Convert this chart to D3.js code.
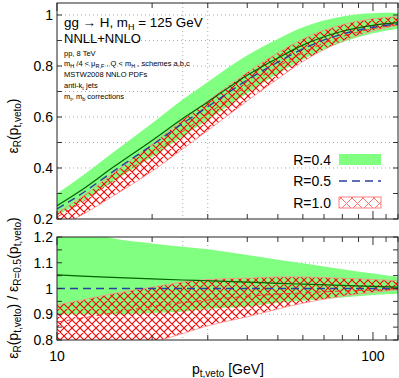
<!DOCTYPE html>
<html>
<head>
<meta charset="utf-8">
<script src="https://d3js.org/d3.v7.min.js"></script>
<style>
body{margin:0;background:#fff;}
text{font-family:"Liberation Sans",Arial,sans-serif;fill:#000;}
</style>
</head>
<body>
<script>
// values
const ptVeto      = [10, 12, 15, 20, 25, 30, 40, 50, 60, 80, 100, 120];
const effR05      = [0.239, 0.30, 0.385, 0.49, 0.575, 0.64, 0.745, 0.815, 0.867, 0.925, 0.952, 0.965];
const ratioR04Mid = [1.053, 1.048, 1.043, 1.037, 1.033, 1.03, 1.025, 1.02, 1.017, 1.012, 1.008, 1.005];
const ratioR04Hi  = [1.255, 1.23, 1.195, 1.175, 1.162, 1.152, 1.13, 1.112, 1.098, 1.075, 1.058, 1.045];
const ratioR04Lo  = [0.90, 0.90, 0.90, 0.905, 0.91, 0.92, 0.93, 0.945, 0.952, 0.965, 0.975, 0.98];
const ratioR10Mid = [0.87, 0.885, 0.905, 0.93, 0.945, 0.955, 0.97, 0.978, 0.983, 0.99, 0.994, 0.997];
const ratioR10Hi  = [0.936, 0.955, 0.98, 1.005, 1.025, 1.035, 1.04, 1.045, 1.045, 1.04, 1.035, 1.03];
const ratioR10Lo  = [0.70, 0.72, 0.75, 0.79, 0.825, 0.855, 0.89, 0.92, 0.943, 0.97, 0.985, 0.995];
const topTicks = [0.2, 0.4, 0.6, 0.8, 1];
const botTicks = [0.8, 0.9, 1, 1.1, 1.2];
const xLabels  = [10, 100];
const legendLabels = ['R=0.4', 'R=0.5', 'R=1.0'];

const width = 399, height = 378;
const left = 57, right = 398;
const svg = d3.select('body').append('svg').attr('width', width).attr('height', height);

const defs = svg.append('defs');
const pat = defs.append('pattern').attr('id', 'hatch').attr('patternUnits', 'userSpaceOnUse')
  .attr('width', 8).attr('height', 8);
pat.append('path').attr('d', 'M0,0L8,8M8,0L0,8M-1,7L1,9M7,-1L9,1M7,9L9,7M-1,1L1,-1')
  .attr('stroke', '#ff0000').attr('stroke-width', 1.1).attr('fill', 'none');
const pat2 = defs.append('pattern').attr('id', 'hatchL').attr('patternUnits', 'userSpaceOnUse')
  .attr('width', 11).attr('height', 11);
pat2.append('path').attr('d', 'M0,0L11,11M11,0L0,11')
  .attr('stroke', '#ff7070').attr('stroke-width', 1).attr('fill', 'none');

const x = d3.scaleLog().domain([10, 120]).range([left, right]);

function panel(id, top, bottom, ydom, ticks, minor, grid, ratio) {
  const y = d3.scaleLinear().domain(ydom).range([bottom, top]);
  defs.append('clipPath').attr('id', id).append('rect')
    .attr('x', left).attr('y', top).attr('width', right - left).attr('height', bottom - top);
  const g = svg.append('g');
  const gc = g.append('g').attr('clip-path', 'url(#' + id + ')');

  // grid
  grid.forEach(v => {
    gc.append('line').attr('x1', left).attr('x2', right).attr('y1', y(v)).attr('y2', y(v))
      .attr('stroke', '#aaa').attr('stroke-width', 1).attr('stroke-dasharray', '1,3');
  });
  [25, 30].forEach(v => {
    gc.append('line').attr('x1', x(v)).attr('x2', x(v)).attr('y1', top).attr('y2', bottom)
      .attr('stroke', '#aaa').attr('stroke-width', 1).attr('stroke-dasharray', '1,3');
  });

  const val = (arr, i) => ratio ? arr[i] : arr[i] * effR05[i];
  const area = (hi, lo) => d3.area().curve(d3.curveMonotoneX)
    .x((d, i) => x(d)).y0((d, i) => y(val(lo, i))).y1((d, i) => y(val(hi, i)))(ptVeto);
  const line = arr => d3.line().curve(d3.curveMonotoneX)
    .x(d => x(d)).y((d, i) => y(val(arr, i)))(ptVeto);
  const ones = ptVeto.map(() => 1);

  gc.append('path').attr('d', area(ratioR04Hi, ratioR04Lo)).attr('fill', '#80ff80');
  gc.append('path').attr('d', area(ratioR10Hi, ratioR10Lo)).attr('fill', 'url(#hatch)');
  [ratioR10Hi, ratioR10Lo].forEach(a => {
    gc.append('path').attr('d', line(a)).attr('fill', 'none').attr('stroke', '#ff9090').attr('stroke-width', 0.8);
  });
  gc.append('path').attr('d', line(ratioR10Mid)).attr('fill', 'none')
    .attr('stroke', '#ff3030').attr('stroke-width', 1).attr('stroke-dasharray', '6,4');
  gc.append('path').attr('d', line(ratioR04Mid)).attr('fill', 'none')
    .attr('stroke', '#006400').attr('stroke-width', 1.2);
  gc.append('path').attr('d', line(ones)).attr('fill', 'none')
    .attr('stroke', '#2b3f9c').attr('stroke-width', 1.4).attr('stroke-dasharray', '8,5');

  // ticks
  const tk = g.append('g').attr('stroke', '#333').attr('stroke-width', 1);
  minor.forEach(v => {
    tk.append('line').attr('x1', left).attr('x2', left + 5).attr('y1', y(v)).attr('y2', y(v));
    tk.append('line').attr('x1', right - 5).attr('x2', right).attr('y1', y(v)).attr('y2', y(v));
  });
  d3.range(10, 121, 10).forEach(v => {
    const L = (v === 10 || v === 100) ? 8 : 5;
    tk.append('line').attr('x1', x(v)).attr('x2', x(v)).attr('y1', bottom).attr('y2', bottom - L);
    tk.append('line').attr('x1', x(v)).attr('x2', x(v)).attr('y1', top).attr('y2', top + L);
  });
  g.append('rect').attr('x', left).attr('y', top).attr('width', right - left).attr('height', bottom - top)
    .attr('fill', 'none').attr('stroke', '#222').attr('stroke-width', 1);

  ticks.forEach(v => {
    g.append('text').attr('x', left - 4).attr('y', y(v) + 5).attr('text-anchor', 'end')
      .attr('font-size', 14).text(d3.format('~g')(v));
  });
  return y;
}

panel('c1', 3, 219, [0.2, 1.047], topTicks, d3.range(0.2, 1.01, 0.1), d3.range(0.4, 1.01, 0.1), false);
panel('c2', 237, 340, [0.8, 1.2], botTicks, d3.range(0.8, 1.21, 0.05), [0.9, 1.0, 1.1], true);

// x labels
xLabels.forEach(v => {
  svg.append('text').attr('x', x(v)).attr('y', 361).attr('text-anchor', 'middle')
    .attr('font-size', 14).text(v);
});
const xt = svg.append('text').attr('x', 228).attr('y', 374).attr('text-anchor', 'middle').attr('font-size', 14);
xt.append('tspan').text('p');
xt.append('tspan').attr('font-size', 10).attr('dy', 3).text('t,veto');
xt.append('tspan').attr('dy', -3).text(' [GeV]');

// y titles
function epsLabel(g, sub) {
  g.append('tspan').text('ε');
  g.append('tspan').attr('font-size', 10).attr('dy', 3).text(sub);
  g.append('tspan').attr('dy', -3).text('(p');
  g.append('tspan').attr('font-size', 10).attr('dy', 3).text('t,veto');
  g.append('tspan').attr('dy', -3).text(')');
}
const y1 = svg.append('text').attr('transform', 'translate(18,126) rotate(-90)')
  .attr('text-anchor', 'middle').attr('font-size', 14);
epsLabel(y1, 'R');
const y2 = svg.append('text').attr('transform', 'translate(18,288) rotate(-90)')
  .attr('text-anchor', 'middle').attr('font-size', 14);
epsLabel(y2, 'R');
y2.append('tspan').text(' / ');
epsLabel(y2, 'R=0.5');

// annotation
const a1 = svg.append('text').attr('x', 64).attr('y', 27).attr('font-size', 13.4);
a1.append('tspan').text('gg → H, m');
a1.append('tspan').attr('font-size', 9).attr('dy', 3).text('H');
a1.append('tspan').attr('dy', -3).text(' = 125 GeV');
svg.append('text').attr('x', 64).attr('y', 43).attr('font-size', 13).text('NNLL+NNLO');
const small = svg.append('g').style('font-size', '7.5px');
small.append('text').attr('x', 64).attr('y', 56).attr('fill', '#222').text('pp, 8 TeV');
const a3 = small.append('text').attr('x', 64).attr('y', 66).attr('fill', '#222');
a3.append('tspan').text('m');
a3.append('tspan').attr('font-size', 5.5).attr('dy', 2).text('H');
a3.append('tspan').attr('dy', -2).text(' /4 < μ');
a3.append('tspan').attr('font-size', 5.5).attr('dy', 2).text('R,F');
a3.append('tspan').attr('dy', -2).text(' , Q < m');
a3.append('tspan').attr('font-size', 5.5).attr('dy', 2).text('H');
a3.append('tspan').attr('dy', -2).text(' , schemes a,b,c');
small.append('text').attr('x', 64).attr('y', 77).attr('fill', '#222').text('MSTW2008 NNLO PDFs');
const a5 = small.append('text').attr('x', 64).attr('y', 88).attr('fill', '#222');
a5.append('tspan').text('anti-k');
a5.append('tspan').attr('font-size', 5.5).attr('dy', 2).text('t');
a5.append('tspan').attr('dy', -2).text(' jets');
const a6 = small.append('text').attr('x', 64).attr('y', 99).attr('fill', '#222');
a6.append('tspan').text('m');
a6.append('tspan').attr('font-size', 5.5).attr('dy', 2).text('t');
a6.append('tspan').attr('dy', -2).text(', m');
a6.append('tspan').attr('font-size', 5.5).attr('dy', 2).text('b');
a6.append('tspan').attr('dy', -2).text(' corrections');

// legend
const ly = [160, 181, 203];
legendLabels.forEach((t, i) => {
  svg.append('text').attr('x', 331).attr('y', ly[i] + 5).attr('text-anchor', 'end')
    .attr('font-size', 14).text(t);
});
svg.append('rect').attr('x', 339).attr('y', ly[0] - 6).attr('width', 42).attr('height', 11).attr('fill', '#80ff80');
svg.append('line').attr('x1', 339).attr('x2', 381).attr('y1', ly[1]).attr('y2', ly[1])
  .attr('stroke', '#2b3f9c').attr('stroke-width', 1.4).attr('stroke-dasharray', '8,5');
svg.append('rect').attr('x', 339).attr('y', ly[2] - 6).attr('width', 42).attr('height', 11)
  .attr('fill', 'url(#hatchL)').attr('stroke', '#ff8080').attr('stroke-width', 1);
</script>
</body>
</html>
